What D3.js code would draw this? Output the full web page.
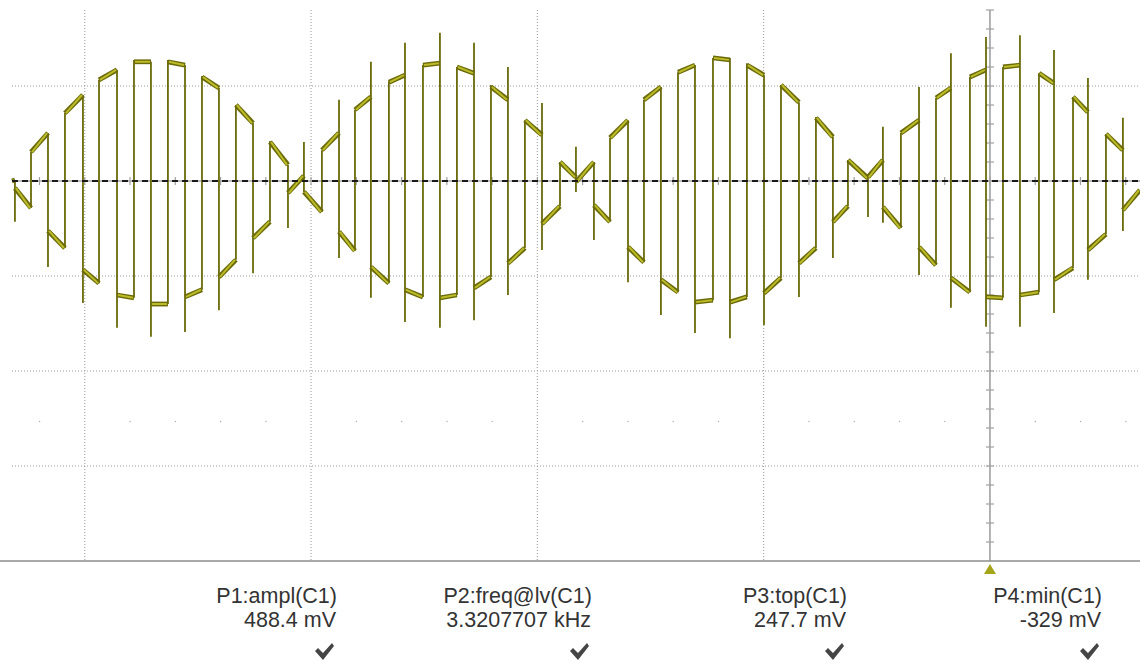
<!DOCTYPE html>
<html>
<head>
<meta charset="utf-8">
<script src="https://cdn.jsdelivr.net/npm/d3@7"></script>
<style>
  body { margin: 0; background: #ffffff; }
  svg { display: block; font-family: "Liberation Sans", Arial, sans-serif; }
</style>
</head>
<body>
<svg id="scope"></svg>
<script>
// Chart size
var svgWidth = 1140;
var svgHeight = 664;

// Screen area of the scope grid
var plot = { left: 12, right: 1140, top: 10, bottom: 561 };

// time window shown (ms, trigger at 0) and the vertical range (mV)
var timeWindow = [-8.643, 1.326];
var voltWindow = [-800, 400];

// time of each vertical transition of the trace (ms)
var edgeT = [-8.617, -8.475, -8.325, -8.175, -8.016, -7.874, -7.715, -7.565, -7.415, -7.265,
  -7.114, -6.964, -6.814, -6.664, -6.513, -6.363, -6.204, -6.063, -5.904, -5.753,
  -5.612, -5.471, -5.312, -5.170, -5.011, -4.861, -4.711, -4.560, -4.410, -4.260,
  -4.110, -3.959, -3.800, -3.659, -3.500, -3.358, -3.199, -3.058, -2.908, -2.757,
  -2.607, -2.448, -2.298, -2.148, -1.997, -1.847, -1.688, -1.538, -1.388, -1.255,
  -1.078, -0.946, -0.787, -0.627, -0.477, -0.345, -0.177, -0.035, 0.115, 0.265,
  0.433, 0.566, 0.734, 0.866, 1.025, 1.175];

// highest and lowest point reached on each transition, spikes included (mV)
var edgeHi = [2, 61, 101, 143, 181, 213, 234, 255, 251, 255,
  244, 221, 196, 160, 122, 84, 34, 82, 65, 171,
  150, 251, 210, 291, 244, 312, 240, 291, 202, 240,
  128, 164, 40, 72, 40, 86, 128, 164, 198, 223,
  244, 259, 259, 248, 223, 202, 166, 135, 93, 44,
  8, 114, 101, 198, 175, 269, 219, 303, 240, 307,
  227, 276, 177, 217, 99, 133];
var edgeLo = [-86, -57, -181, -141, -257, -215, -309, -246, -328, -259,
  -318, -229, -272, -166, -194, -86, -99, -23, -65, -162,
  -147, -246, -215, -297, -244, -309, -240, -293, -202, -240,
  -141, -145, -53, -23, -124, -86, -213, -171, -282, -234,
  -320, -251, -331, -244, -303, -204, -244, -141, -162, -53,
  -76, -88, -99, -198, -177, -267, -234, -307, -246, -307,
  -234, -278, -183, -208, -112, -105];

// level at the start and end of each flat part (first one is before the first transition, mV)
var levelStart = [0,
  -15, 61, -105, 143, -187, 213, -240, 251, -259, 251,
  -244, 219, -202, 160, -120, 82, -25, -23, 65, -107,
  150, -181, 208, -229, 244, -246, 240, -225, 198, -173,
  128, -90, 40, -2, -51, 91, -139, 171, -208, 229,
  -255, 259, -255, 244, -236, 202, -173, 133, -86, 44,
  8, -55, 101, -139, 175, -204, 219, -244, 240, -240,
  227, -208, 177, -145, 99, -61];
var levelEnd = [2,
  -57, 101, -141, 181, -215, 234, -246, 251, -259, 244,
  -229, 196, -166, 122, -86, 34, 11, -65, 101, -147,
  177, -215, 223, -244, 248, -240, 227, -202, 171, -141,
  97, -53, 8, 40, -86, 128, -171, 198, -234, 244,
  -251, 255, -244, 223, -204, 166, -141, 93, -53, 6,
  44, -99, 128, -177, 196, -234, 234, -246, 244, -234,
  206, -183, 145, -112, 65, -19];

// grid lines (ms / mV)
var timeGrid = [-8, -6, -4, -2];
var voltGrid = [200, -200, -400, -600];

// measurement readouts under the grid
var measLabels = ["P1:ampl(C1)", "P2:freq@lv(C1)", "P3:top(C1)", "P4:min(C1)"];
var measValues = ["488.4 mV", "3.3207707 kHz", "247.7 mV", "-329 mV"];

var svg = d3.select("#scope")
  .attr("width", svgWidth)
  .attr("height", svgHeight);

// scales
var xScale = d3.scaleLinear().domain(timeWindow).range([plot.left, plot.right]);
var yScale = d3.scaleLinear().domain(voltWindow).range([plot.bottom, -9]);

var gridGroup = svg.append("g");

// dotted horizontal grid
gridGroup.selectAll(".hgrid")
  .data(voltGrid)
  .enter()
  .append("line")
  .attr("x1", plot.left)
  .attr("x2", plot.right)
  .attr("y1", d => yScale(d))
  .attr("y2", d => yScale(d))
  .attr("stroke", "#9a9a9a")
  .attr("stroke-width", 1)
  .attr("stroke-dasharray", "1,2");

// dotted vertical grid
gridGroup.selectAll(".vgrid")
  .data(timeGrid)
  .enter()
  .append("line")
  .attr("x1", d => xScale(d))
  .attr("x2", d => xScale(d))
  .attr("y1", plot.top)
  .attr("y2", plot.bottom)
  .attr("stroke", "#9a9a9a")
  .attr("stroke-width", 1)
  .attr("stroke-dasharray", "1,2");

// minor positions, 5 per division
var minorT = d3.range(-21, 4).map(i => i * 0.4);
var minorV = d3.range(-19, 10).map(i => i * 40);

// row of faint dots half way down the lower part
gridGroup.selectAll(".dot")
  .data(minorT.filter(t => Math.abs(t / 2 - Math.round(t / 2)) > 0.01))
  .enter()
  .append("rect")
  .attr("x", d => xScale(d) - 0.5)
  .attr("y", yScale(-505))
  .attr("width", 1.2)
  .attr("height", 1.2)
  .attr("fill", "#a8a8a8");

// zero line: grey line with the black dashed level marker on top
gridGroup.append("line")
  .attr("x1", plot.left)
  .attr("x2", plot.right)
  .attr("y1", yScale(0))
  .attr("y2", yScale(0))
  .attr("stroke", "#a8a8a8")
  .attr("stroke-width", 1.5);

// ticks along the zero line
gridGroup.selectAll(".xtick")
  .data(minorT)
  .enter()
  .append("line")
  .attr("x1", d => xScale(d))
  .attr("x2", d => xScale(d))
  .attr("y1", yScale(0) - 4)
  .attr("y2", yScale(0) + 4)
  .attr("stroke", "#a0a0a0")
  .attr("stroke-width", 1.2);

// vertical axis at the trigger time
gridGroup.append("line")
  .attr("x1", xScale(0))
  .attr("x2", xScale(0))
  .attr("y1", plot.top)
  .attr("y2", plot.bottom)
  .attr("stroke", "#a0a0a0")
  .attr("stroke-width", 1.6);

gridGroup.selectAll(".ytick")
  .data(minorV)
  .enter()
  .append("line")
  .attr("x1", xScale(0) - 4)
  .attr("x2", xScale(0) + 4)
  .attr("y1", d => yScale(d))
  .attr("y2", d => yScale(d))
  .attr("stroke", "#a0a0a0")
  .attr("stroke-width", 1.2);

// bottom border of the grid
gridGroup.append("line")
  .attr("x1", 0)
  .attr("x2", svgWidth)
  .attr("y1", plot.bottom)
  .attr("y2", plot.bottom)
  .attr("stroke", "#8c8c8c")
  .attr("stroke-width", 1.5);

// trigger marker
var tx = xScale(0);
svg.append("path")
  .attr("d", `M${tx},${plot.bottom + 3} L${tx - 6},${plot.bottom + 13} L${tx + 6},${plot.bottom + 13} Z`)
  .attr("fill", "#a5a51a");

// build the trace
var bounds = [timeWindow[0]].concat(edgeT, [timeWindow[1]]);
var flats = levelStart.map(function (s, i) {
  return { t0: bounds[i], t1: bounds[i + 1], v0: s, v1: levelEnd[i] };
});
var edges = edgeT.map(function (t, i) {
  var vals = [edgeHi[i], edgeLo[i], levelEnd[i], levelStart[i + 1]];
  return { t: t, hi: d3.max(vals), lo: d3.min(vals) };
});

var traceGroup = svg.append("g");

// transitions, thin
traceGroup.selectAll(".edge")
  .data(edges)
  .enter()
  .append("line")
  .attr("x1", d => xScale(d.t))
  .attr("x2", d => xScale(d.t))
  .attr("y1", d => yScale(d.hi))
  .attr("y2", d => yScale(d.lo))
  .attr("stroke", "#6a6a0a")
  .attr("stroke-width", 1.8);

// flat parts, a dark band with a yellow core
traceGroup.selectAll(".flatOuter")
  .data(flats)
  .enter()
  .append("line")
  .attr("x1", d => xScale(d.t0))
  .attr("x2", d => xScale(d.t1))
  .attr("y1", d => yScale(d.v0))
  .attr("y2", d => yScale(d.v1))
  .attr("stroke", "#6a6a08")
  .attr("stroke-width", 4.8);

traceGroup.selectAll(".flatInner")
  .data(flats)
  .enter()
  .append("line")
  .attr("x1", d => xScale(d.t0) + 1)
  .attr("x2", d => xScale(d.t1) - 1)
  .attr("y1", d => yScale(d.v0))
  .attr("y2", d => yScale(d.v1))
  .attr("stroke", "#bcbc2a")
  .attr("stroke-width", 2);

// black dashed zero level marker drawn over the trace
svg.append("line")
  .attr("x1", plot.left)
  .attr("x2", plot.right)
  .attr("y1", yScale(0))
  .attr("y2", yScale(0))
  .attr("stroke", "#1a1a1a")
  .attr("stroke-width", 2)
  .attr("stroke-dasharray", "6,4");

// measurement readouts, right aligned
var measGroup = svg.append("g");
var measRight = measLabels.map((d, i) => 337 + i * 255);

measGroup.selectAll(".label")
  .data(measLabels)
  .enter()
  .append("text")
  .attr("x", (d, i) => measRight[i])
  .attr("y", 603)
  .attr("text-anchor", "end")
  .attr("font-size", 21.5)
  .attr("fill", "#333333")
  .text(d => d);

measGroup.selectAll(".value")
  .data(measValues)
  .enter()
  .append("text")
  .attr("x", (d, i) => measRight[i] - 1)
  .attr("y", 627)
  .attr("text-anchor", "end")
  .attr("font-size", 21.5)
  .attr("fill", "#333333")
  .text(d => d);

// check marks
measGroup.selectAll(".check")
  .data(measRight)
  .enter()
  .append("path")
  .attr("transform", d => `translate(${d - 4}, 0)`)
  .attr("d", "M-18,651 L-15,648 L-10,653 L-1,643 L1,646 L-10,660 Z")
  .attr("fill", "#454545");
</script>
</body>
</html>
